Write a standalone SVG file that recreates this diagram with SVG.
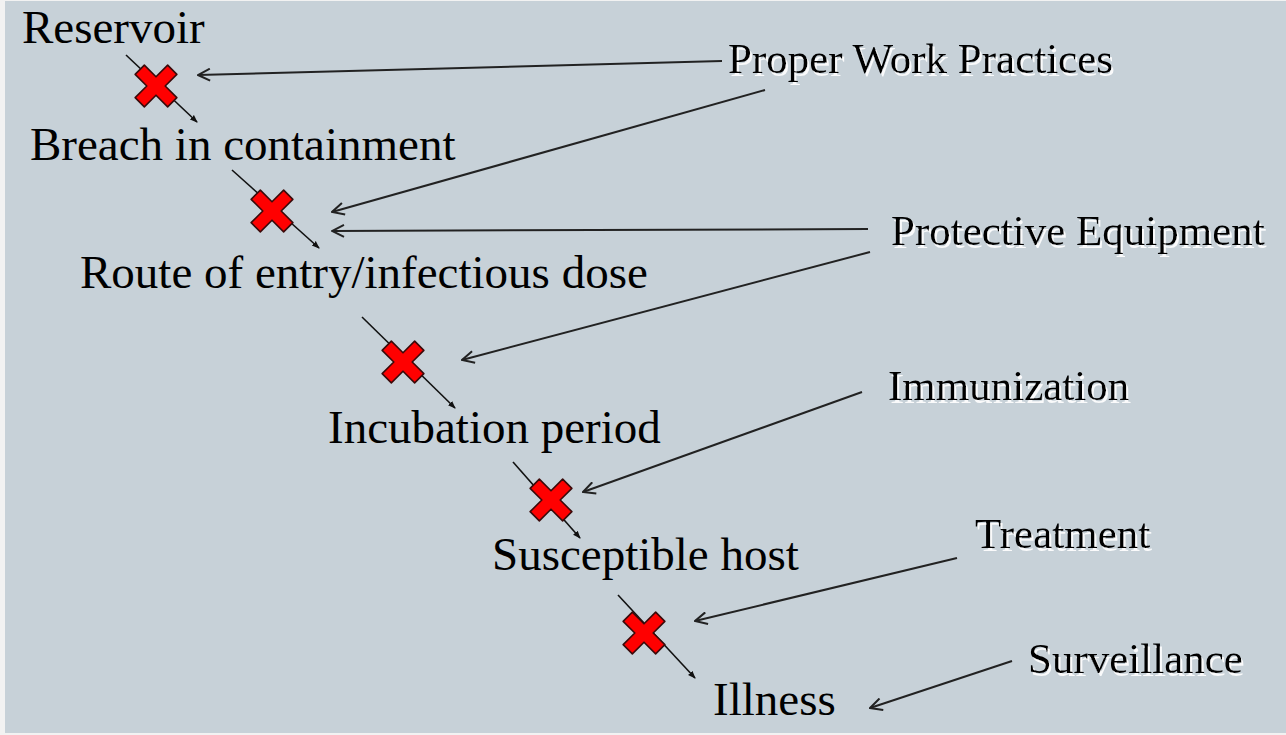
<svg xmlns="http://www.w3.org/2000/svg" width="1286" height="735" viewBox="0 0 1286 735">
<style>
.lbl{font-family:"Liberation Serif","Times New Roman",serif;font-size:47px;fill:#000}
.rl{font-family:"Liberation Serif","Times New Roman",serif;font-size:43px;fill:#000;filter:url(#wshadow)}
.ptr{stroke:#222;stroke-width:2;fill:none;marker-end:url(#vhead)}
.seq{stroke:#111;stroke-width:1.6;fill:none;marker-end:url(#dot)}
.x{fill:#ff0000;stroke:#3a0a0a;stroke-width:1.6;stroke-linejoin:round}
</style>
<defs>
<filter id="wshadow" x="-5%" y="-20%" width="110%" height="150%">
<feOffset in="SourceAlpha" dx="1.5" dy="3" result="off"/>
<feGaussianBlur in="off" stdDeviation="0.6" result="bl"/>
<feFlood flood-color="#ffffff" flood-opacity="0.9"/>
<feComposite in2="bl" operator="in" result="sh"/>
<feMerge><feMergeNode in="sh"/><feMergeNode in="SourceGraphic"/></feMerge>
</filter>
<marker id="vhead" viewBox="0 0 14 14" refX="13" refY="7" markerWidth="14" markerHeight="14" markerUnits="userSpaceOnUse" orient="auto">
<path d="M1,1 L13,7 L1,13" fill="none" stroke="#222" stroke-width="2"/>
</marker>
<marker id="dot" viewBox="0 0 8 8" refX="7" refY="4" markerWidth="8" markerHeight="8" markerUnits="userSpaceOnUse" orient="auto">
<path d="M0,1 L8,4 L0,7 z" fill="#111"/>
</marker>
<path id="cross" d="M-6.5,-23 L6.5,-23 L6.5,-6.5 L23,-6.5 L23,6.5 L6.5,6.5 L6.5,23 L-6.5,23 L-6.5,6.5 L-23,6.5 L-23,-6.5 L-6.5,-6.5 Z" transform="rotate(45)"/>
</defs>
<rect x="0" y="0" width="1286" height="735" fill="#f2f2f2"/>
<rect x="5" y="1" width="1281" height="732" fill="#c7d1d8"/>

<g id="connectors">
<line class="seq" x1="126" y1="55" x2="197" y2="122"/>
<line class="seq" x1="232" y1="170" x2="319" y2="248"/>
<line class="seq" x1="362" y1="317" x2="455" y2="408"/>
<line class="seq" x1="513" y1="462" x2="580" y2="538"/>
<line class="seq" x1="618" y1="595" x2="695" y2="678"/>
<line class="ptr" x1="722" y1="61" x2="198" y2="75"/>
<line class="ptr" x1="765" y1="90" x2="332" y2="212"/>
<line class="ptr" x1="868" y1="229" x2="332" y2="231"/>
<line class="ptr" x1="870" y1="252" x2="462" y2="360"/>
<line class="ptr" x1="862" y1="392" x2="583" y2="492"/>
<line class="ptr" x1="957" y1="558" x2="695" y2="621"/>
<line class="ptr" x1="1012" y1="661" x2="870" y2="708"/>
</g>

<g id="blocks">
<g id="x1"><use href="#cross" class="x" transform="translate(156,86)"/></g>
<g id="x2"><use href="#cross" class="x" transform="translate(272,211)"/></g>
<g id="x3"><use href="#cross" class="x" transform="translate(403,362)"/></g>
<g id="x4"><use href="#cross" class="x" transform="translate(551,500)"/></g>
<g id="x5"><use href="#cross" class="x" transform="translate(644,633)"/></g>
</g>

<g id="stages">
<g id="reservoir"><text class="lbl" x="22" y="43">Reservoir</text></g>
<g id="breach"><text class="lbl" x="30" y="160">Breach in containment</text></g>
<g id="route"><text class="lbl" x="80" y="288">Route of entry/infectious dose</text></g>
<g id="incubation"><text class="lbl" x="328" y="443">Incubation period</text></g>
<g id="host"><text class="lbl" x="492" y="570">Susceptible host</text></g>
<g id="illness"><text class="lbl" x="713" y="715">Illness</text></g>
</g>

<g id="controls">
<g id="pwp"><text class="rl" x="728" y="73">Proper Work Practices</text></g>
<g id="pe"><text class="rl" x="891" y="245">Protective Equipment</text></g>
<g id="imm"><text class="rl" x="888" y="400">Immunization</text></g>
<g id="treat"><text class="rl" x="975" y="548">Treatment</text></g>
<g id="surv"><text class="rl" x="1028" y="673">Surveillance</text></g>
</g>
</svg>
